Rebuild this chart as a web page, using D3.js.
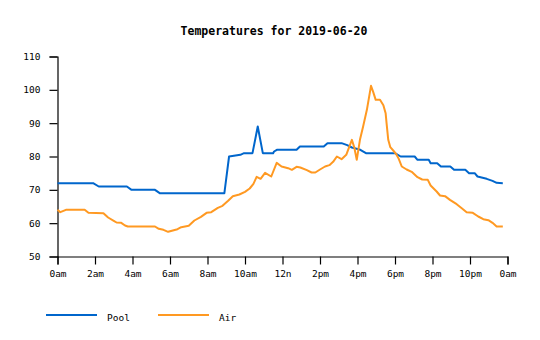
<!DOCTYPE html>
<html>
<head>
<meta charset="utf-8">
<script src="https://cdn.jsdelivr.net/npm/d3@7"></script>
<style>
  html, body { margin: 0; padding: 0; background: #fff; }
  svg { display: block; }
  text { font-family: "DejaVu Sans Mono", "Liberation Mono", monospace; }
</style>
</head>
<body>
<svg id="chart" width="540" height="340"></svg>
<script>
// ---- data (hours since midnight, °F) ----
const title = "Temperatures for 2019-06-20";
const seriesNames = ["Pool", "Air"];
const seriesColors = ["#0066cc", "#ff9922"];

const poolTimes = [0, 1.9, 2.2, 3.7, 3.95, 5.2, 5.45, 8.9, 9.15, 9.75, 9.95, 10.4, 10.68, 10.95, 11.5, 11.55, 11.7,
  12.75, 12.93, 14.2, 14.4, 15.15, 15.45, 15.7, 16.15, 16.45, 18.0, 18.3, 19.05, 19.2, 19.8, 19.9, 20.25, 20.45,
  20.95, 21.15, 21.75, 21.95, 22.25, 22.4, 22.89, 23.2, 23.42, 23.75];
const poolValues = [72, 72, 71, 71, 70, 70, 69, 69, 80, 80.5, 81, 81, 89, 81, 81, 81.5, 82,
  82, 83, 83, 84, 84, 83.4, 82.7, 82, 81, 81, 80, 80, 79, 79, 78, 78, 77,
  77, 76, 76, 75, 75, 74, 73.3, 72.7, 72.1, 72];

const airTimes = [0, 0.15, 0.45, 1.45, 1.65, 2.45, 2.7, 3.0, 3.15, 3.4, 3.6, 3.75, 5.2, 5.4, 5.65, 5.9, 6.15, 6.4,
  6.6, 7.0, 7.3, 7.65, 7.95, 8.2, 8.55, 8.8, 9.1, 9.35, 9.7, 10.0, 10.25, 10.45, 10.62, 10.83, 11.07, 11.4, 11.69,
  11.95, 12.3, 12.5, 12.75, 12.95, 13.3, 13.55, 13.75, 14.0, 14.27, 14.5, 14.7, 14.9, 15.15, 15.4, 15.7, 15.83,
  15.96, 16.13, 16.3, 16.5, 16.72, 16.84, 16.97, 17.2, 17.38, 17.5, 17.55, 17.64, 17.75, 17.95, 18.05, 18.2, 18.36,
  18.62, 18.89, 19.2, 19.45, 19.75, 19.9, 20.22, 20.4, 20.67, 20.93, 21.29, 21.56, 21.82, 22.15, 22.44, 22.71,
  22.98, 23.2, 23.42, 23.75];
const airValues = [64, 63.3, 64, 64, 63.1, 63, 61.7, 60.7, 60.2, 60.1, 59.3, 59, 59, 58.3, 58, 57.4, 57.8, 58.2,
  58.8, 59.2, 60.8, 61.9, 63.1, 63.3, 64.6, 65.2, 66.7, 68.1, 68.6, 69.4, 70.4, 71.8, 73.9, 73.3, 75.1, 74, 78.1,
  77, 76.5, 76, 76.9, 76.7, 75.9, 75.2, 75.2, 76.1, 77, 77.4, 78.4, 80, 79.2, 80.5, 85, 82.7,
  79, 85, 89, 94, 101.2, 99.3, 97, 97, 95.4, 93, 90, 85, 82.8, 81.5, 80.8, 79.3, 77,
  76.1, 75.4, 73.8, 73.1, 73, 71.3, 69.5, 68.3, 68.1, 67, 65.7, 64.5, 63.3, 63.1, 62, 61.2,
  60.9, 60.1, 59, 59];

const xTickValues = [0, 2, 4, 6, 8, 10, 12, 14, 16, 18, 20, 22, 24];
const xTickLabels = ["0am", "2am", "4am", "6am", "8am", "10am", "12n", "2pm", "4pm", "6pm", "8pm", "10pm", "0am"];
const yTickValues = [50, 60, 70, 80, 90, 100, 110];

// ---- drawing ----
const svg = d3.select("#chart");
const plotLeft = 57.5, plotRight = 507.5, plotTop = 56.5, plotBottom = 256.5;

const x = d3.scaleLinear().domain([0, 24]).range([plotLeft, plotRight]);
const y = d3.scaleLinear().domain([50, 110]).range([plotBottom, plotTop]);

svg.append("text")
  .attr("x", 274).attr("y", 35)
  .attr("text-anchor", "middle")
  .attr("font-size", "11.5px")
  .attr("font-weight", "bold")
  .attr("fill", "#000")
  .text(title);

const yAxis = d3.axisLeft(y).tickValues(yTickValues).tickSize(8).tickSizeOuter(8).tickPadding(9)
  .tickFormat(d3.format("d"));
const gy = svg.append("g").attr("transform", `translate(${plotLeft},0)`).call(yAxis);

const xAxis = d3.axisBottom(x).tickValues(xTickValues).tickSize(8).tickSizeOuter(8).tickPadding(6)
  .tickFormat((d, i) => xTickLabels[i]);
const gx = svg.append("g").attr("transform", `translate(0,${plotBottom})`).call(xAxis);

[gx, gy].forEach(g => {
  g.selectAll("text").attr("font-family", "'DejaVu Sans Mono', monospace").attr("font-size", "9.5px").attr("fill", "#000");
  g.selectAll("line,path").attr("stroke", "#000").attr("stroke-width", 1.2);
});

const line = d3.line().x(d => x(d[0])).y(d => y(d[1]));
const series = [
  d3.zip(poolTimes, poolValues),
  d3.zip(airTimes, airValues)
];
series.forEach((data, i) => {
  svg.append("path")
    .datum(data)
    .attr("fill", "none")
    .attr("stroke", seriesColors[i])
    .attr("stroke-width", 2)
    .attr("stroke-linejoin", "round")
    .attr("d", line);
});

// legend
const legendX = [46, 158];
seriesNames.forEach((name, i) => {
  const g = svg.append("g");
  g.append("line")
    .attr("x1", legendX[i]).attr("x2", legendX[i] + 51)
    .attr("y1", 315).attr("y2", 315)
    .attr("stroke", seriesColors[i]).attr("stroke-width", 2);
  g.append("text")
    .attr("x", legendX[i] + 61).attr("y", 321)
    .attr("font-size", "9.5px").attr("fill", "#000")
    .text(name);
});
</script>
</body>
</html>
